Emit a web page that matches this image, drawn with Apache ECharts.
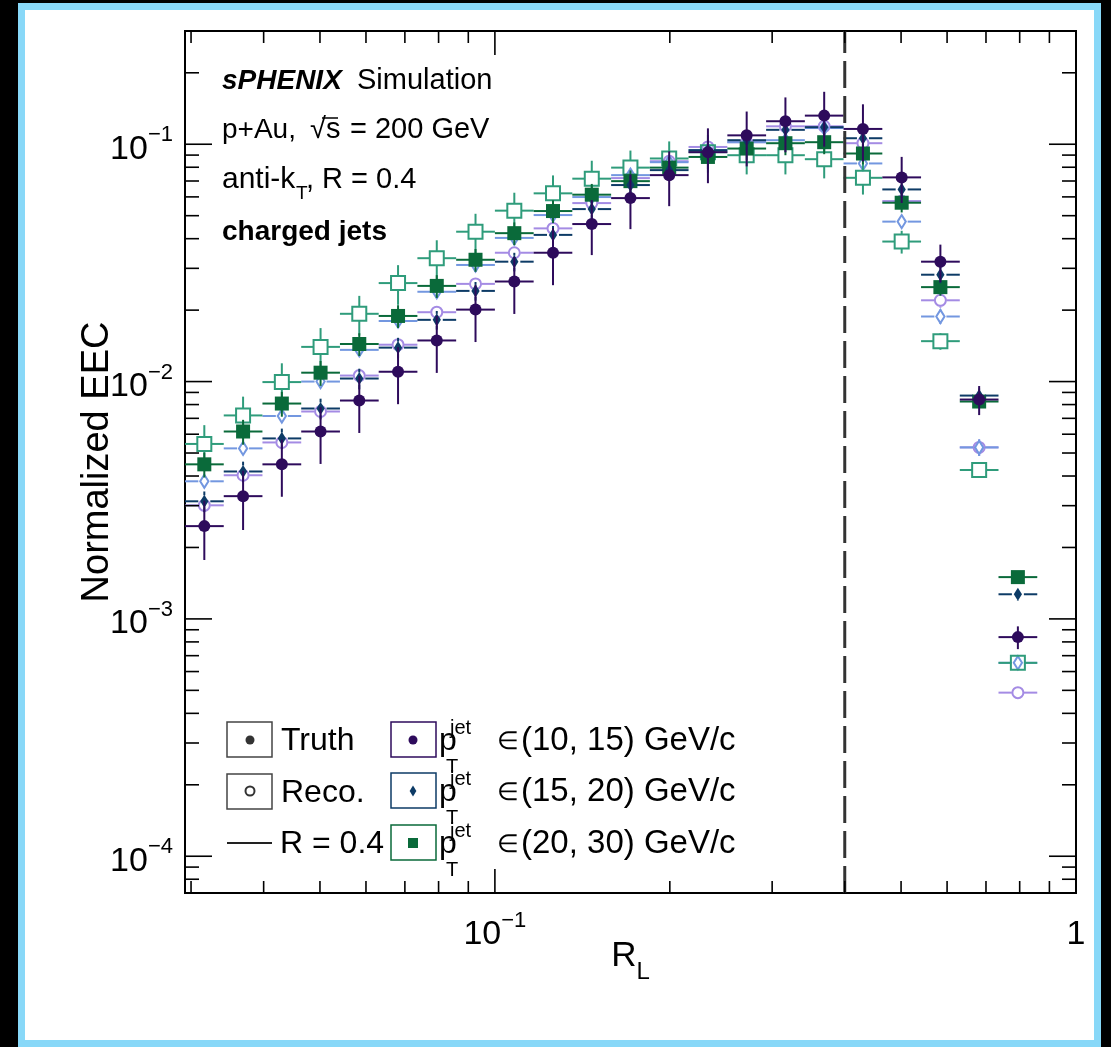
<!DOCTYPE html>
<html>
<head>
<meta charset="utf-8">
<script src="https://cdn.jsdelivr.net/npm/echarts@6/dist/echarts.min.js"></script>
<style>
  body { margin: 0; background: #000; width: 1111px; height: 1047px; overflow: hidden; position: relative; }
  #frame { position: absolute; left: 18px; top: 3px; width: 1083px; height: 1044px; box-sizing: border-box;
           border: 7px solid #88d8f8; background: #fff; }
  #chart { position: absolute; left: 0; top: 0; width: 1111px; height: 1047px; }
</style>
</head>
<body>
<div id="frame"></div>
<div id="chart"></div>
<script>
// 字体
const FONT = '"Liberation Sans", Arial, Helvetica, sans-serif';

// 坐标范围
const xMin = 0.02929, xMax = 1;
const yMin = 7e-5, yMax = 0.3;

// R_L 分箱 (边界和中心)
const binEdges = [0.02929, 0.03415, 0.03981, 0.04642, 0.05412, 0.06310, 0.07356, 0.08577, 0.1, 0.1166,
  0.1359, 0.1585, 0.1848, 0.2154, 0.2512, 0.2929, 0.3415, 0.3981, 0.4642, 0.5412, 0.6310, 0.7356, 0.8577];
const binCenters = [0.03162, 0.03687, 0.04299, 0.05012, 0.05843, 0.06813, 0.07943, 0.09261, 0.1080, 0.1259,
  0.1468, 0.1711, 0.1995, 0.2326, 0.2712, 0.3162, 0.3687, 0.4299, 0.5012, 0.5843, 0.6813, 0.7943];

// Truth
const truth10to15 = [0.00246, 0.00329, 0.00448, 0.00616, 0.00832, 0.0110, 0.0149, 0.0201, 0.0264, 0.0349, 0.0461,
  0.0593, 0.0741, 0.0926, 0.109, 0.125, 0.132, 0.116, 0.0725, 0.0320, 0.00840, 0.000838];
const truth15to20 = [0.00313, 0.00418, 0.00576, 0.00770, 0.0103, 0.0139, 0.0182, 0.0241, 0.0320, 0.0415, 0.0533,
  0.0673, 0.0778, 0.0944, 0.104, 0.115, 0.118, 0.106, 0.0645, 0.0282, 0.00873, 0.00127];
const truth20to30 = [0.00448, 0.00616, 0.00808, 0.0109, 0.0144, 0.0189, 0.0253, 0.0326, 0.0422, 0.0523, 0.0613,
  0.0699, 0.0797, 0.0884, 0.0959, 0.101, 0.102, 0.0914, 0.0567, 0.0250, 0.00824, 0.00150];
// Reco
const reco10to15 = [0.00301, 0.00403, 0.00554, 0.00748, 0.0106, 0.0143, 0.0196, 0.0258, 0.0349, 0.0442, 0.0565,
  0.0720, 0.0848, 0.0974, 0.102, 0.119, 0.119, 0.101, 0.0576, 0.0220, 0.00528, 0.000489];
const reco15to20 = [0.00380, 0.00523, 0.00716, 0.0100, 0.0136, 0.0180, 0.0239, 0.0310, 0.0403, 0.0503, 0.0599,
  0.0741, 0.0840, 0.0944, 0.102, 0.104, 0.117, 0.0830, 0.0472, 0.0188, 0.00528, 0.000653];
const reco20to30 = [0.00546, 0.00720, 0.00995, 0.0140, 0.0193, 0.0260, 0.0331, 0.0428, 0.0525, 0.0621, 0.0716,
  0.0797, 0.0871, 0.0926, 0.0899, 0.0899, 0.0865, 0.0722, 0.0389, 0.0148, 0.00424, 0.000653];

// 相对误差
const truth10to15Err = [0.28, 0.28, 0.27, 0.27, 0.27, 0.27, 0.27, 0.27, 0.27, 0.27, 0.26,
  0.26, 0.26, 0.26, 0.26, 0.26, 0.26, 0.27, 0.22, 0.18, 0.14, 0.11];
const truth15to20Err = [0.10, 0.10, 0.10, 0.10, 0.10, 0.10, 0.09, 0.09, 0.09, 0.09, 0.09,
  0.09, 0.09, 0.09, 0.09, 0.09, 0.09, 0.09, 0.08, 0.08, 0.07, 0.06];
const truth20to30Err = [0.12, 0.12, 0.12, 0.12, 0.11, 0.11, 0.11, 0.11, 0.11, 0.11, 0.11,
  0.11, 0.11, 0.11, 0.11, 0.11, 0.11, 0.10, 0.09, 0.08, 0.06, 0.05];
const reco10to15Err = [0.06, 0.06, 0.06, 0.06, 0.06, 0.06, 0.06, 0.06, 0.06, 0.06, 0.06,
  0.06, 0.06, 0.06, 0.06, 0.06, 0.06, 0.06, 0.06, 0.07, 0.08, 0.06];
const reco15to20Err = [0.06, 0.06, 0.06, 0.06, 0.06, 0.06, 0.06, 0.06, 0.06, 0.06, 0.06,
  0.06, 0.06, 0.06, 0.06, 0.06, 0.06, 0.06, 0.06, 0.07, 0.08, 0.05];
const reco20to30Err = [0.20, 0.20, 0.20, 0.20, 0.19, 0.19, 0.19, 0.19, 0.19, 0.19, 0.19,
  0.18, 0.18, 0.18, 0.17, 0.17, 0.17, 0.15, 0.11, 0.08, 0.05, 0.05];

// 刻度
const xMajorTicks = [0.1, 1];
const xMinorTicks = [0.03, 0.04, 0.05, 0.06, 0.07, 0.08, 0.09, 0.2, 0.3, 0.4, 0.5, 0.6, 0.7, 0.8, 0.9];
const yMajorTicks = [1e-4, 1e-3, 1e-2, 1e-1];
const yMinorTicks = [7e-5, 8e-5, 9e-5,
  2e-4, 3e-4, 4e-4, 5e-4, 6e-4, 7e-4, 8e-4, 9e-4,
  2e-3, 3e-3, 4e-3, 5e-3, 6e-3, 7e-3, 8e-3, 9e-3,
  2e-2, 3e-2, 4e-2, 5e-2, 6e-2, 7e-2, 8e-2, 9e-2,
  0.2];

// 刻度标签
const xLabelValues = [0.1, 1];
const xLabelBase = ['10', '1'];
const xLabelExp = ['−1', ''];
const yLabelValues = [1e-4, 1e-3, 1e-2, 1e-1];
const yLabelBase = ['10', '10', '10', '10'];
const yLabelExp = ['−4', '−3', '−2', '−1'];

// R = 0.4 虚线
const jetRadius = 0.4;

// 颜色
const C_T1 = '#2e0b5c', C_T2 = '#0d3b66', C_T3 = '#0a6a3a';
const C_R1 = '#a48be4', C_R2 = '#7397e0', C_R3 = '#2f9c7b';

function labelFormatter(values, bases, exps) {
  return function (v) {
    const i = values.findIndex(t => Math.abs(Math.log10(v) - Math.log10(t)) < 1e-6);
    if (i < 0) return '';
    return exps[i] ? '{b|' + bases[i] + '}{s|' + exps[i] + '}' : '{b|' + bases[i] + '}';
  };
}

const labelRich = {
  b: { fontFamily: FONT, fontSize: 34, lineHeight: 50, color: '#000' },
  s: { fontFamily: FONT, fontSize: 22, lineHeight: 23, verticalAlign: 'top', color: '#000' }
};

// 画点的形状
function markerShape(st, x, y) {
  const lw = st.open ? 2 : 0;
  const style = { fill: st.open ? 'none' : st.color, stroke: st.color, lineWidth: lw };
  const s = st.size;
  if (st.shape === 'circle') {
    return { type: 'circle', shape: { cx: x, cy: y, r: s }, style: style };
  } else if (st.shape === 'square') {
    return { type: 'rect', shape: { x: x - s, y: y - s, width: 2 * s, height: 2 * s }, style: style };
  }
  return { type: 'polygon', shape: { points: [[x, y - s * 1.2], [x + s * 0.75, y], [x, y + s * 1.2], [x - s * 0.75, y]] }, style: style };
}

function errSeries(name, values, rel, st) {
  const data = values.map((v, i) => [binCenters[i], v, binEdges[i], binEdges[i + 1], v * rel[i]]);
  return {
    type: 'custom',
    name: name,
    coordinateSystem: 'cartesian2d',
    encode: { x: 0, y: 1 },
    z: st.z,
    data: data,
    renderItem: function (params, api) {
      const xc = api.value(0), y = api.value(1), err = api.value(4);
      const c = api.coord([xc, y]);
      const l = api.coord([api.value(2), y])[0];
      const r = api.coord([api.value(3), y])[0];
      const top = api.coord([xc, y + err])[1];
      const bot = api.coord([xc, y - err])[1];
      const g = st.gap;
      const ls = { stroke: st.color, lineWidth: 2 };
      const children = [];
      if (c[0] - g > l) children.push({ type: 'line', shape: { x1: l, y1: c[1], x2: c[0] - g, y2: c[1] }, style: ls });
      if (r > c[0] + g) children.push({ type: 'line', shape: { x1: c[0] + g, y1: c[1], x2: r, y2: c[1] }, style: ls });
      if (c[1] - g > top) children.push({ type: 'line', shape: { x1: c[0], y1: top, x2: c[0], y2: c[1] - g }, style: ls });
      if (bot > c[1] + g) children.push({ type: 'line', shape: { x1: c[0], y1: c[1] + g, x2: c[0], y2: bot }, style: ls });
      children.push(markerShape(st, c[0], c[1]));
      return { type: 'group', children: children };
    }
  };
}

// 框上的刻度 (四边, 朝内)
const tickSeries = {
  type: 'custom',
  coordinateSystem: 'cartesian2d',
  encode: { x: 0, y: 1 },
  z: 10,
  silent: true,
  data: [[0.5, 0.01]],
  renderItem: function (params, api) {
    const cs = params.coordSys;
    const left = cs.x, right = cs.x + cs.width, top = cs.y, bottom = cs.y + cs.height;
    const st = { stroke: '#000', lineWidth: 1.6 };
    const children = [];
    function xt(list, len) {
      list.forEach(v => {
        const px = api.coord([v, yMin])[0];
        if (px < left + 1 || px > right - 1) return;
        children.push({ type: 'line', shape: { x1: px, y1: bottom, x2: px, y2: bottom - len }, style: st });
        children.push({ type: 'line', shape: { x1: px, y1: top, x2: px, y2: top + len }, style: st });
      });
    }
    function yt(list, len) {
      list.forEach(v => {
        const py = api.coord([xMin, v])[1];
        if (py < top + 1 || py > bottom - 1) return;
        children.push({ type: 'line', shape: { x1: left, y1: py, x2: left + len, y2: py }, style: st });
        children.push({ type: 'line', shape: { x1: right, y1: py, x2: right - len, y2: py }, style: st });
      });
    }
    xt(xMajorTicks, 24);
    xt(xMinorTicks, 12);
    yt(yMajorTicks, 27);
    yt(yMinorTicks, 14);
    return { type: 'group', children: children };
  }
};

// 图例和文字
function txt(x, y, text, font, color) {
  return { type: 'text', x: x, y: y, z: 100,
    style: { text: text, font: font, fill: color || '#000', align: 'left', verticalAlign: 'middle',
             textAlign: 'left', textVerticalAlign: 'middle' } };
}
function legendMarker(shape, x, y, color, open, size) {
  const m = markerShape({ shape: shape, color: color, open: open, size: size }, x, y);
  m.z = 100;
  return m;
}
function box(x, y, color) {
  return { type: 'rect', z: 100, shape: { x: x, y: y, width: 45, height: 35 },
           style: { fill: '#fff', stroke: color, lineWidth: 1.5 } };
}

const reg = (sz) => sz + 'px ' + FONT;
const bold = (sz) => 'bold ' + sz + 'px ' + FONT;

const legendRows = [740, 791, 843];
const ptLabels = ['(10, 15) GeV/c', '(15, 20) GeV/c', '(20, 30) GeV/c'];
const ptColors = [C_T1, C_T2, C_T3];
const ptShapes = ['circle', 'diamond', 'square'];

const graphics = [
  txt(222, 81, 'sPHENIX', 'italic ' + bold(28)),
  txt(357, 81, 'Simulation', reg(29)),
  txt(222, 130, 'p+Au,', reg(28)),
  txt(310, 130, '√s', reg(29)),
  { type: 'line', z: 100, shape: { x1: 322, y1: 118, x2: 338, y2: 118 }, style: { stroke: '#000', lineWidth: 1.5 } },
  txt(350, 130, '= 200 GeV', reg(29)),
  txt(222, 180, 'anti-k', reg(30)),
  txt(296, 194, 'T', reg(19)),
  txt(306, 180, ', R = 0.4', reg(29)),
  txt(222, 232, 'charged jets', bold(28)),
  // Truth / Reco / R
  box(227, 722, '#444'),
  legendMarker('circle', 250, 740, '#333', false, 4.5),
  txt(281, 741, 'Truth', reg(32)),
  box(227, 774, '#444'),
  legendMarker('circle', 250, 791, '#333', true, 4.5),
  txt(281, 793, 'Reco.', reg(32)),
  { type: 'line', z: 100, shape: { x1: 227, y1: 843, x2: 272, y2: 843 }, style: { stroke: '#222', lineWidth: 2 } },
  txt(280, 844, 'R = 0.4', reg(32))
];
legendRows.forEach((cy, i) => {
  graphics.push(box(391, cy - 18, ptColors[i]));
  graphics.push(legendMarker(ptShapes[i], 413, cy, ptColors[i], false, ptShapes[i] === 'square' ? 5 : 4.5));
  graphics.push(txt(439, cy + 1, 'p', reg(32)));
  graphics.push(txt(450, cy - 12, 'jet', reg(20)));
  graphics.push(txt(446, cy + 27, 'T', reg(20)));
  graphics.push(txt(497, cy + 2, '∈', reg(25)));
  graphics.push(txt(521, cy + 1, ptLabels[i], reg(33)));
});

const chart = echarts.init(document.getElementById('chart'));
const option = {
  animation: false,
  backgroundColor: 'transparent',
  grid: { left: 185, top: 31, right: 35, bottom: 154, show: true, borderColor: '#000', borderWidth: 2 },
  xAxis: {
    type: 'log', logBase: 10, min: xMin, max: xMax,
    axisLine: { show: false }, axisTick: { show: false }, splitLine: { show: false },
    axisLabel: { formatter: labelFormatter(xLabelValues, xLabelBase, xLabelExp), rich: labelRich, margin: 17,
                 showMinLabel: true, showMaxLabel: true },
    name: '{r|R}{l|L}', nameLocation: 'middle', nameGap: 35, nameMoveOverlap: false,
    nameTextStyle: { rich: {
      r: { fontFamily: FONT, fontSize: 35, lineHeight: 56, color: '#000' },
      l: { fontFamily: FONT, fontSize: 24, lineHeight: 24, verticalAlign: 'bottom', color: '#000' }
    } }
  },
  yAxis: {
    type: 'log', logBase: 10, min: yMin, max: yMax,
    axisLine: { show: false }, axisTick: { show: false }, splitLine: { show: false },
    axisLabel: { formatter: labelFormatter(yLabelValues, yLabelBase, yLabelExp), rich: labelRich, margin: 12,
                 padding: [10, 0, 0, 0] },
    name: 'Normalized EEC', nameLocation: 'middle', nameGap: 68, nameMoveOverlap: false,
    nameTextStyle: { fontFamily: FONT, fontSize: 38, color: '#000' }
  },
  graphic: graphics,
  series: [
    errSeries('Reco 10-15', reco10to15, reco10to15Err, { shape: 'circle', color: C_R1, open: true, size: 5.5, gap: 6, z: 2 }),
    errSeries('Reco 15-20', reco15to20, reco15to20Err, { shape: 'diamond', color: C_R2, open: true, size: 5.5, gap: 6, z: 2 }),
    errSeries('Reco 20-30', reco20to30, reco20to30Err, { shape: 'square', color: C_R3, open: true, size: 7, gap: 7, z: 2 }),
    errSeries('Truth 20-30', truth20to30, truth20to30Err, { shape: 'square', color: C_T3, open: false, size: 7, gap: 6, z: 3 }),
    errSeries('Truth 15-20', truth15to20, truth15to20Err, { shape: 'diamond', color: C_T2, open: false, size: 5.5, gap: 6, z: 3 }),
    errSeries('Truth 10-15', truth10to15, truth10to15Err, { shape: 'circle', color: C_T1, open: false, size: 6, gap: 5, z: 3 }),
    {
      type: 'line', silent: true, symbol: 'none', z: 4,
      data: [[jetRadius, yMin], [jetRadius, yMax]],
      lineStyle: { color: '#333', width: 3, type: [27, 8] }
    },
    tickSeries
  ]
};
chart.setOption(option);
</script>
</body>
</html>
